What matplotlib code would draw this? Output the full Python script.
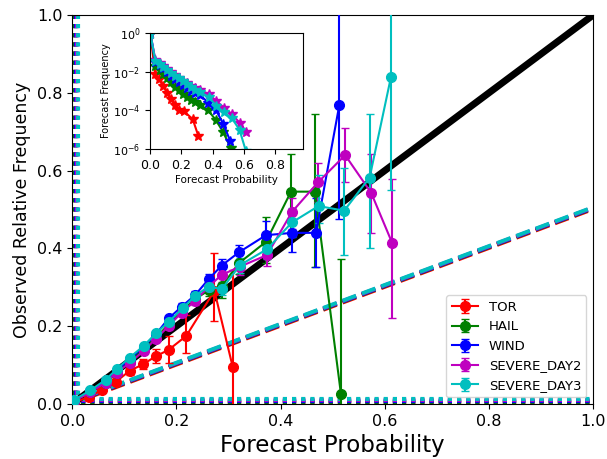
import matplotlib

matplotlib.use("Agg")
import matplotlib.pyplot as plt
import numpy as np

NAMES = ["TOR", "HAIL", "WIND", "SEVERE_DAY2", "SEVERE_DAY3"]
COLORS = ["r", "g", "b", "m", "c"]

# mean forecast probability per bin
tor_x = [0.003, 0.033, 0.058, 0.084, 0.110, 0.136, 0.161, 0.185, 0.219, 0.273, 0.308]
hail_x = [0.003, 0.035, 0.064, 0.085, 0.110, 0.137, 0.161, 0.185, 0.210, 0.236, 0.262,
          0.287, 0.320, 0.372, 0.420, 0.466, 0.516]
wind_x = [0.003, 0.035, 0.064, 0.085, 0.110, 0.137, 0.161, 0.185, 0.210, 0.236, 0.262,
          0.287, 0.320, 0.372, 0.422, 0.468, 0.513]
day2_x = [0.003, 0.035, 0.064, 0.085, 0.110, 0.137, 0.161, 0.185, 0.210, 0.236, 0.262,
          0.287, 0.322, 0.374, 0.422, 0.472, 0.524, 0.574, 0.614]
day3_x = [0.003, 0.035, 0.064, 0.085, 0.110, 0.137, 0.161, 0.185, 0.212, 0.236, 0.262,
          0.287, 0.322, 0.374, 0.422, 0.473, 0.522, 0.571, 0.612]

# observed relative frequency per bin
tor_y = [0.003, 0.019, 0.036, 0.057, 0.085, 0.102, 0.123, 0.139, 0.175, 0.291, 0.096]
hail_y = [0.007, 0.030, 0.055, 0.080, 0.108, 0.140, 0.170, 0.205, 0.238, 0.270, 0.292,
          0.303, 0.362, 0.417, 0.546, 0.546, 0.025]
wind_y = [0.008, 0.033, 0.058, 0.085, 0.115, 0.147, 0.180, 0.220, 0.250, 0.280, 0.321,
          0.356, 0.390, 0.434, 0.440, 0.440, 0.770]
day2_y = [0.007, 0.030, 0.055, 0.080, 0.105, 0.136, 0.168, 0.200, 0.235, 0.265, 0.302,
          0.332, 0.353, 0.383, 0.494, 0.570, 0.640, 0.543, 0.415]
day3_y = [0.010, 0.035, 0.062, 0.089, 0.119, 0.149, 0.182, 0.211, 0.246, 0.278, 0.302,
          0.295, 0.357, 0.398, 0.467, 0.509, 0.497, 0.582, 0.841]

# confidence interval bounds (low, high)
tor_lo = [0.002, 0.015, 0.030, 0.050, 0.075, 0.090, 0.105, 0.105, 0.131, 0.214, -0.20]
tor_hi = [0.004, 0.023, 0.042, 0.065, 0.095, 0.115, 0.142, 0.175, 0.229, 0.387, 0.344]
hail_lo = [0.006, 0.028, 0.052, 0.076, 0.103, 0.134, 0.163, 0.197, 0.228, 0.258, 0.278,
           0.272, 0.335, 0.362, 0.440, 0.353, -0.20]
hail_hi = [0.008, 0.032, 0.058, 0.084, 0.113, 0.146, 0.177, 0.213, 0.248, 0.282, 0.306,
           0.334, 0.389, 0.480, 0.644, 0.747, 0.374]
wind_lo = [0.007, 0.031, 0.056, 0.082, 0.111, 0.142, 0.174, 0.213, 0.241, 0.269, 0.308,
           0.340, 0.371, 0.396, 0.392, 0.353, 0.475]
wind_hi = [0.009, 0.035, 0.060, 0.088, 0.119, 0.152, 0.186, 0.227, 0.259, 0.291, 0.334,
           0.372, 0.409, 0.471, 0.499, 0.530, 1.20]
day2_lo = [0.006, 0.028, 0.052, 0.077, 0.101, 0.131, 0.162, 0.193, 0.226, 0.254, 0.288,
           0.314, 0.332, 0.356, 0.450, 0.520, 0.571, 0.440, 0.221]
day2_hi = [0.008, 0.032, 0.058, 0.083, 0.109, 0.141, 0.174, 0.207, 0.244, 0.276, 0.316,
           0.350, 0.374, 0.410, 0.529, 0.620, 0.710, 0.642, 0.578]
day3_lo = [0.009, 0.033, 0.059, 0.086, 0.115, 0.144, 0.176, 0.204, 0.237, 0.267, 0.289,
           0.280, 0.338, 0.372, 0.430, 0.465, 0.383, 0.400, 0.550]
day3_hi = [0.011, 0.037, 0.065, 0.092, 0.123, 0.154, 0.188, 0.218, 0.255, 0.289, 0.315,
           0.310, 0.376, 0.424, 0.504, 0.589, 0.606, 0.747, 1.20]

# fraction of all forecasts falling in each bin
tor_freq = [0.95, 7.9e-3, 4.0e-3, 1.8e-3, 7.9e-4, 4.0e-4, 2.0e-4, 1.1e-4, 8.9e-5, 3.5e-5, 5.0e-6]
hail_freq = [0.95, 2.0e-2, 1.26e-2, 7.9e-3, 5.0e-3, 2.8e-3, 1.6e-3, 1.1e-3, 7.1e-4, 5.0e-4,
             3.5e-4, 2.8e-4, 2.0e-4, 1.0e-4, 3.2e-5, 7.9e-6, 1.1e-6]
wind_freq = [0.95, 3.2e-2, 2.2e-2, 1.6e-2, 1.0e-2, 6.3e-3, 4.0e-3, 2.8e-3, 2.0e-3, 1.4e-3,
             1.0e-3, 7.9e-4, 6.3e-4, 2.5e-4, 1.0e-4, 2.0e-5, 2.5e-6]
day2_freq = [0.93, 4.0e-2, 2.8e-2, 2.0e-2, 1.4e-2, 1.0e-2, 7.1e-3, 5.0e-3, 3.5e-3, 2.5e-3,
             1.8e-3, 1.4e-3, 1.1e-3, 7.1e-4, 3.2e-4, 1.4e-4, 6.3e-5, 2.2e-5, 7.9e-6]
day3_freq = [0.93, 3.5e-2, 2.5e-2, 1.8e-2, 1.26e-2, 8.9e-3, 6.3e-3, 4.5e-3, 3.2e-3, 2.2e-3,
             1.6e-3, 1.1e-3, 8.9e-4, 5.0e-4, 1.8e-4, 7.9e-5, 4.0e-5, 1.0e-5, 7.9e-7]

# base rate of each hazard
climatology = [0.002, 0.006, 0.008, 0.010, 0.012]

series = [
    (tor_x, tor_y, tor_lo, tor_hi, tor_freq),
    (hail_x, hail_y, hail_lo, hail_hi, hail_freq),
    (wind_x, wind_y, wind_lo, wind_hi, wind_freq),
    (day2_x, day2_y, day2_lo, day2_hi, day2_freq),
    (day3_x, day3_y, day3_lo, day3_hi, day3_freq),
]

fig = plt.figure(figsize=(6.07, 4.59), dpi=100)
ax = fig.add_axes([0.119, 0.12, 0.858, 0.847])

for (x, y, lo, hi, _), name, color in zip(series, NAMES, COLORS):
    y = np.asarray(y)
    yerr = np.vstack([y - np.asarray(lo), np.asarray(hi) - y])
    ax.errorbar(x, y, yerr=yerr, color=color, marker="o", markersize=7,
                linewidth=1.5, capsize=3, label=name, zorder=3)

ax.plot([0, 1], [0, 1], color="k", linewidth=5, zorder=2)

# no-skill lines and climatology references
p = np.array([0.0, 1.0])
for clim, color in zip(climatology, COLORS):
    ax.plot(p, (p + clim) / 2.0, color=color, linestyle="--", linewidth=2.8, zorder=1)
    ax.axhline(clim, color=color, linestyle=(0, (1, 1.2)), linewidth=3, zorder=1)
    ax.axvline(clim, color=color, linestyle=(0, (1, 1.2)), linewidth=3, zorder=1)

ax.set_xlim(0, 1)
ax.set_ylim(0, 1)
ax.tick_params(labelsize=11.5)
ax.set_xlabel("Forecast Probability", fontsize=16.5)
ax.set_ylabel("Observed Relative Frequency", fontsize=12.5)
ax.legend(loc="lower right", fontsize=9.5)

# forecast frequency inset
ins = fig.add_axes([0.247, 0.675, 0.252, 0.253])
for (x, _, _, _, freq), color in zip(series, COLORS):
    ins.semilogy(x, freq, color=color, marker="*", markersize=7, linewidth=1.5)
ins.set_xlim(0, 0.975)
ins.set_xticks([0.0, 0.2, 0.4, 0.6, 0.8])
ins.set_ylim(1e-6, 1)
ins.set_yticks([1e0, 1e-2, 1e-4, 1e-6])
ins.tick_params(axis="x", labelsize=9)
ins.tick_params(axis="y", labelsize=8)
ins.set_xlabel("Forecast Probability", fontsize=7.5, labelpad=2)
ins.set_ylabel("Forecast Frequency", fontsize=7, labelpad=1)

fig.savefig("out.png", dpi=100)
